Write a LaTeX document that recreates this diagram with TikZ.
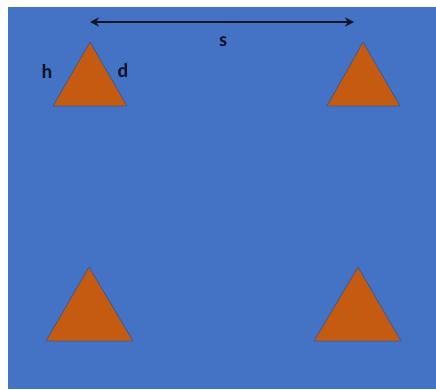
\documentclass[tikz,border=0pt]{standalone}
\usepackage{fontspec}
\setmainfont{Carlito}
\usetikzlibrary{arrows.meta}
\definecolor{bgblue}{RGB}{68,114,196}
\definecolor{triorange}{RGB}{197,90,17}
\definecolor{triedge}{RGB}{65,90,140}
\definecolor{inkdark}{RGB}{15,20,40}
\begin{document}
\begin{tikzpicture}[x=1pt,y=-1pt,
  tri/.style={fill=triorange,draw=triedge,line width=0.8pt,line join=round},
  lbl/.style={font=\fontsize{20}{22}\selectfont\bfseries,text=inkdark,inner sep=0pt},
  dim/.style={draw=inkdark,line width=2.6pt,{Stealth[length=9pt,width=9pt]}-{Stealth[length=9pt,width=9pt]}}]
\useasboundingbox (0,0) rectangle (436,389);
\fill[white] (0,0) rectangle (436,389);
\fill[bgblue] (8,7) rectangle (436,389);
% triangles
\draw[tri] (90,42) -- (127,106) -- (53,106) -- cycle;
\draw[tri] (363,42) -- (400,106) -- (327,106) -- cycle;
\draw[tri] (89,267) -- (133,341) -- (46,341) -- cycle;
\draw[tri] (358,267) -- (401,341) -- (314,341) -- cycle;
% dimension arrow
\coordinate (sl) at (90,22);
\coordinate (sr) at (354,22);
\draw[dim] (sl) -- (sr);
\node[lbl] (s) at (223,42) {s};
\node[lbl] (h) at (47,71) {h};
\node[lbl] (d) at (123,71) {d};
\end{tikzpicture}
\end{document}
